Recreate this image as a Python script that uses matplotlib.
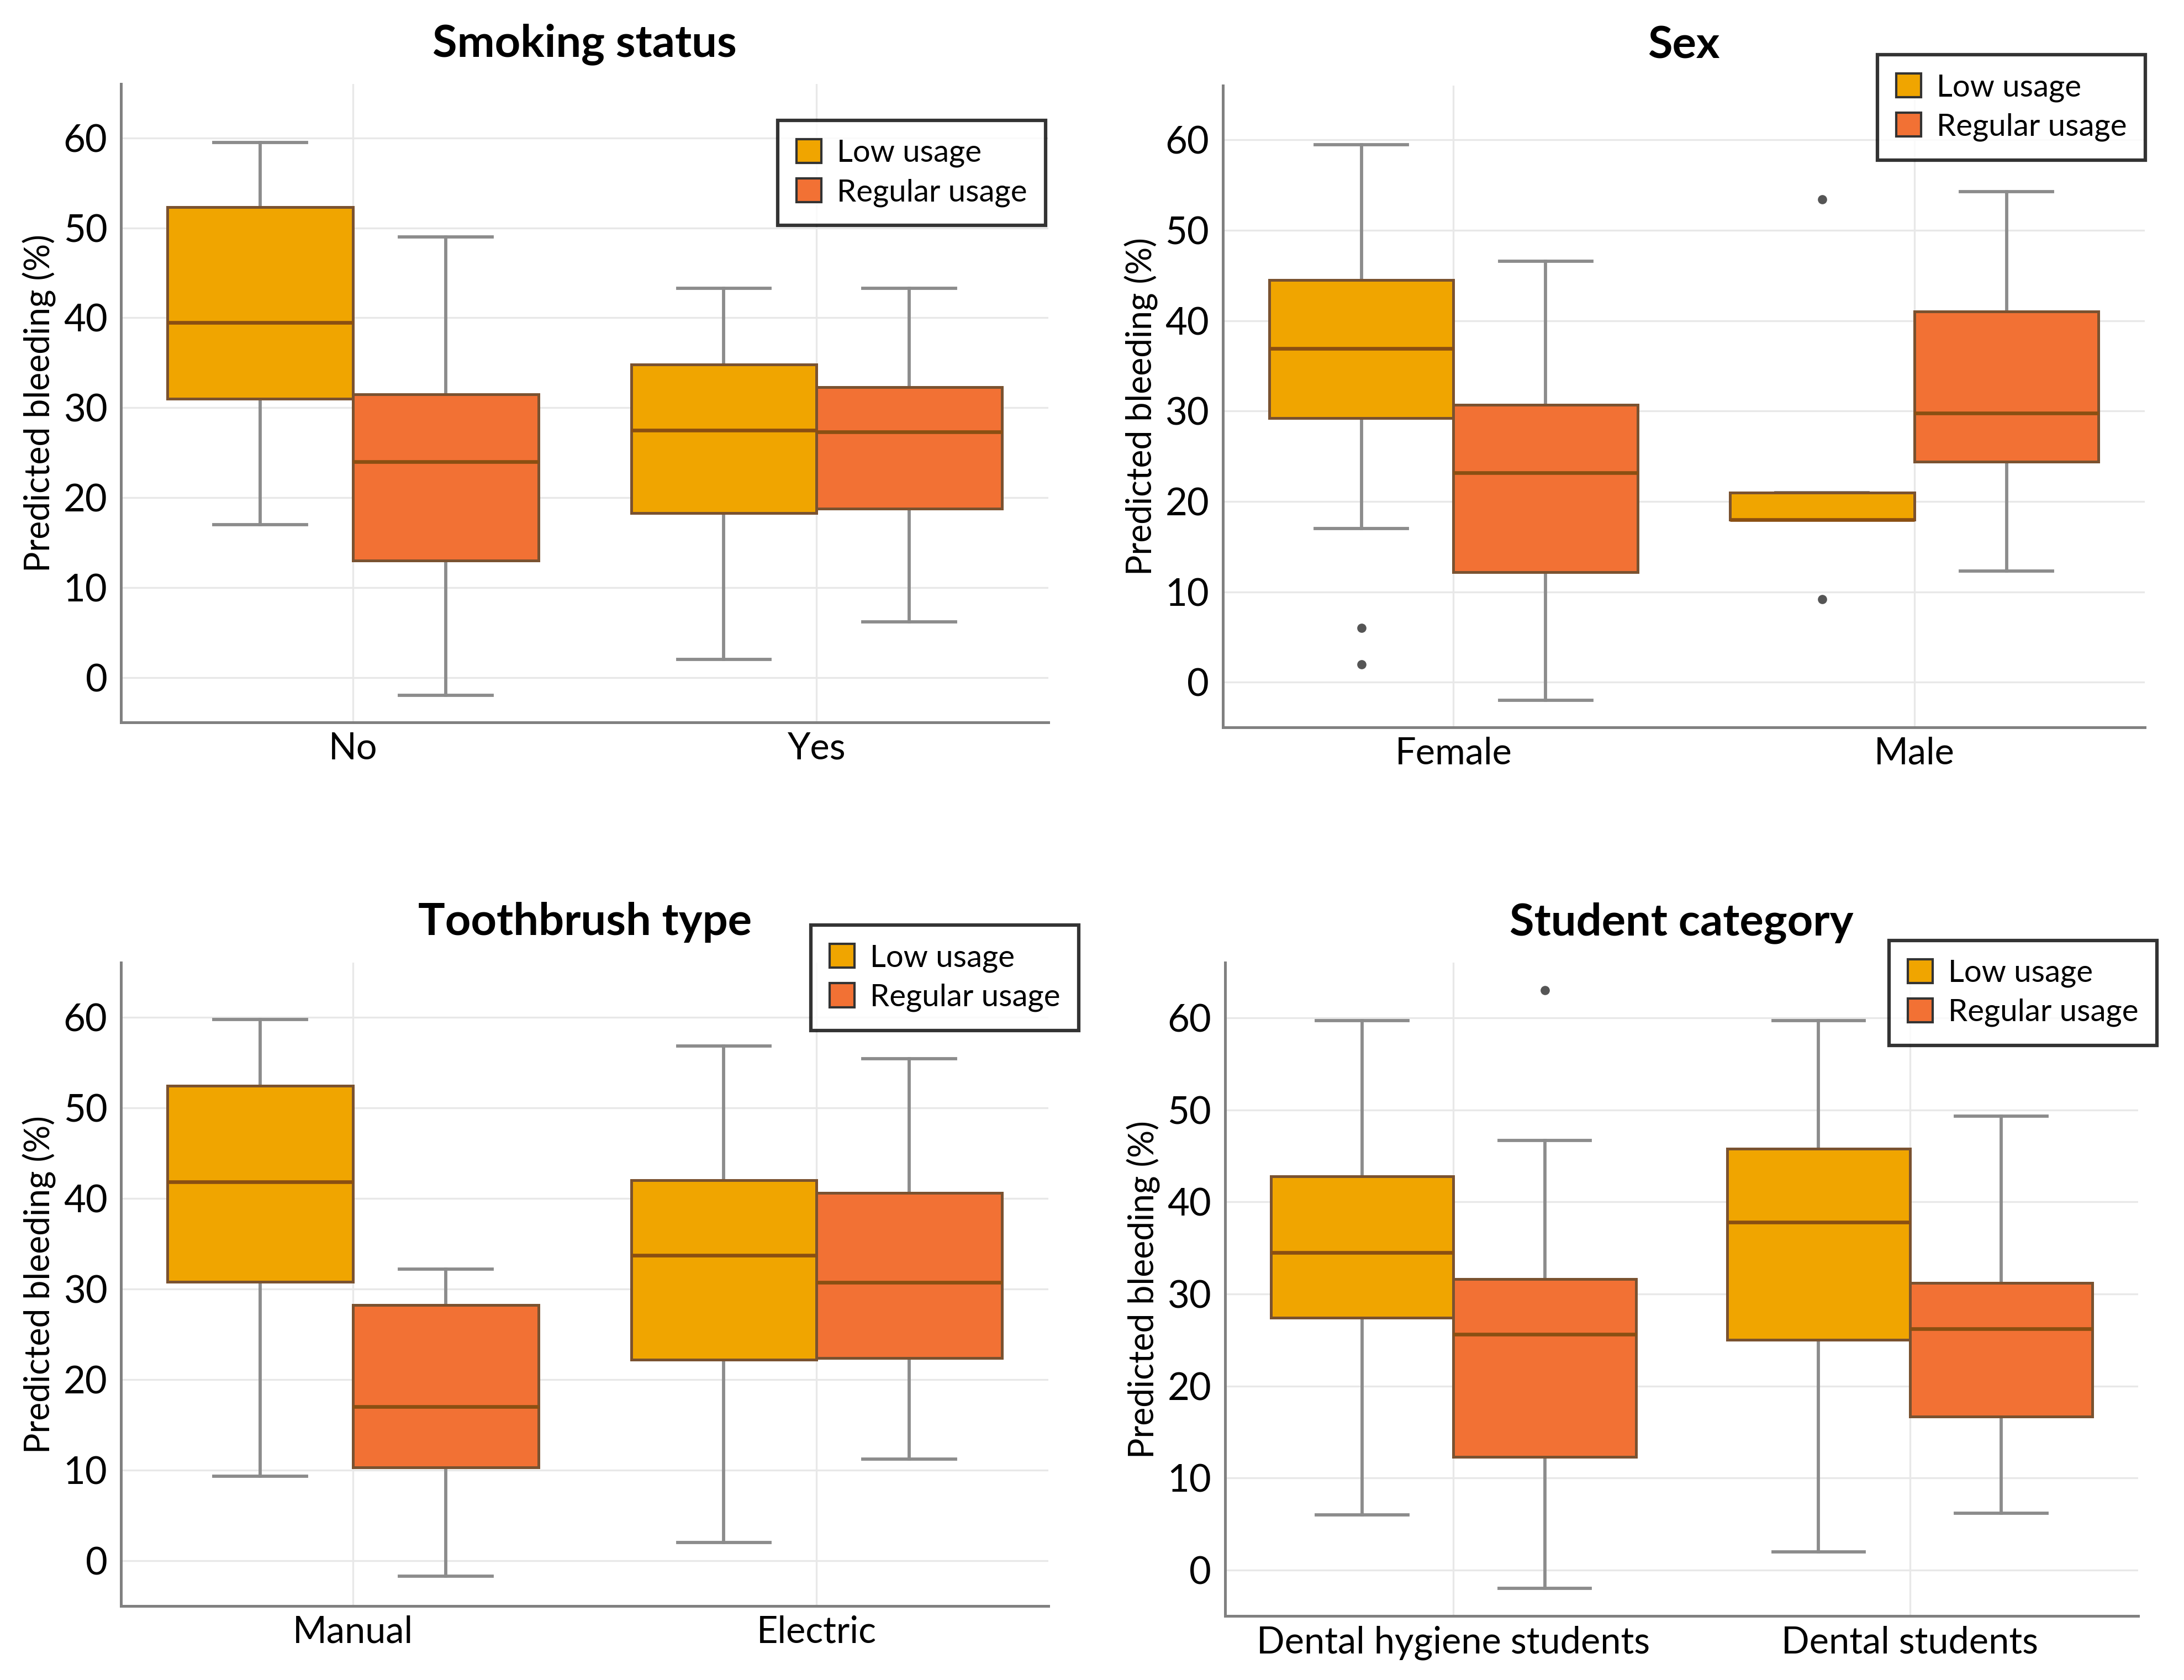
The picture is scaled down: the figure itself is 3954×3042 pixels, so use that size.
import matplotlib.pyplot as plt
from matplotlib.patches import Patch

plt.rcParams['font.family'] = ['Lato', 'DejaVu Sans']

# five-number summaries: (whislo, q1, med, q3, whishi)
titles = ["Smoking status", "Sex", "Toothbrush type", "Student category"]
categories = [["No", "Yes"], ["Female", "Male"], ["Manual", "Electric"],
              ["Dental hygiene students", "Dental students"]]

low_stats = [
    [(17, 31, 39.5, 52.3, 59.5), (2, 18.3, 27.5, 34.8, 43.3)],
    [(17, 29.2, 36.9, 44.5, 59.5), (18, 18, 18, 21, 21)],
    [(9.3, 30.8, 41.8, 52.4, 59.7), (2, 22.2, 33.7, 42, 56.8)],
    [(6, 27.4, 34.5, 42.8, 59.7), (2, 25, 37.8, 45.8, 59.7)],
]
low_fliers = [[[], []], [[6, 2], [53.4, 9.2]], [[], []], [[], []]]

reg_stats = [
    [(-2, 13, 24, 31.5, 49), (6.2, 18.8, 27.3, 32.3, 43.3)],
    [(-2, 12.2, 23.2, 30.7, 46.6), (12.3, 24.4, 29.8, 41, 54.3)],
    [(-1.7, 10.3, 17, 28.2, 32.2), (11.2, 22.4, 30.7, 40.6, 55.4)],
    [(-2, 12.3, 25.6, 31.6, 46.7), (6.2, 16.7, 26.2, 31.2, 49.3)],
]
reg_fliers = [[[], []], [[], []], [[], []], [[63], []]]

series_names = ["Low usage", "Regular usage"]
colors = ["#F0A500", "#F27134"]
edge = "#7A5230"

positions = [(0.0555, 0.570, 0.4245, 0.380), (0.560, 0.567, 0.422, 0.382),
             (0.0555, 0.044, 0.4245, 0.383), (0.561, 0.038, 0.418, 0.389)]
legend_anchor = [(0.708, 0.943), (0.71, 1.048), (0.744, 1.058), (0.727, 1.034)]

fig = plt.figure(figsize=(13.18, 10.14), dpi=300)

def to_bxp(stats, fliers):
    out = []
    for s, f in zip(stats, fliers):
        out.append(dict(whislo=s[0], q1=s[1], med=s[2], q3=s[3], whishi=s[4], fliers=f))
    return out

for k in range(4):
    ax = fig.add_axes(positions[k])
    for j, (stats, fliers) in enumerate([(low_stats[k], low_fliers[k]), (reg_stats[k], reg_fliers[k])]):
        offset = -0.2 if j == 0 else 0.2
        bp = ax.bxp(to_bxp(stats, fliers), positions=[i + offset for i in range(2)],
                    widths=0.4, patch_artist=True, manage_ticks=False,
                    boxprops=dict(facecolor=colors[j], edgecolor=edge, linewidth=1.2),
                    medianprops=dict(color="#8A4F12", linewidth=1.6),
                    whiskerprops=dict(color="#8C8C8C", linewidth=1.4),
                    capprops=dict(color="#8C8C8C", linewidth=1.4),
                    capwidths=0.2,
                    flierprops=dict(marker='o', markersize=3, markerfacecolor="#555555",
                                    markeredgecolor="#555555"))
        for box in bp['boxes']:
            box.set_zorder(3)
        for med in bp['medians']:
            med.set_zorder(4)
    ax.set_xlim(-0.5, 1.5)
    ax.set_ylim(-5, 66)
    ax.set_xticks([0, 1])
    ax.set_xticklabels(categories[k], fontsize=16)
    ax.set_yticks(range(0, 61, 10))
    ax.tick_params(axis='y', labelsize=16.5, length=0, pad=6)
    ax.tick_params(axis='x', length=0, pad=4)
    ax.grid(True, color="#E8E8E8", linewidth=0.8)
    ax.set_axisbelow(True)
    for side in ['top', 'right']:
        ax.spines[side].set_visible(False)
    for side in ['left', 'bottom']:
        ax.spines[side].set_color("#808080")
        ax.spines[side].set_linewidth(1.2)
    ax.set_ylabel("Predicted bleeding (%)", fontsize=15, labelpad=3)
    ax.set_title(titles[k], fontsize=19.5, fontweight='bold', pad=12)
    handles = [Patch(facecolor=colors[i], edgecolor="#333333", label=series_names[i]) for i in range(2)]
    leg = ax.legend(handles=handles, loc='upper left', bbox_to_anchor=legend_anchor[k],
                    borderaxespad=0, fancybox=False, edgecolor="black", fontsize=13.5,
                    handlelength=0.8, handleheight=0.8, handletextpad=0.5,
                    borderpad=0.6, labelspacing=0.35)
    leg.get_frame().set_linewidth(1.5)

fig.savefig("out.png", dpi=300)
